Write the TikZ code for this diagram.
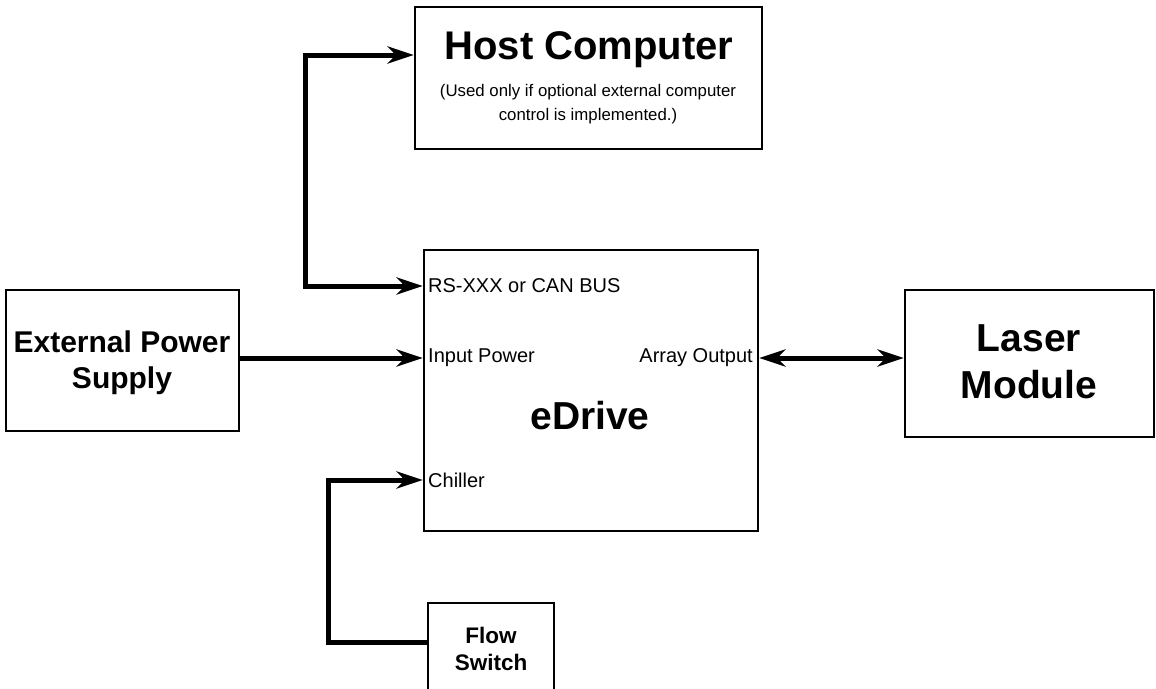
\documentclass[tikz,border=0pt]{standalone}
\usepackage{fontspec}
\setmainfont{Liberation Sans}
\usetikzlibrary{arrows.meta,calc}
\begin{document}
\begin{tikzpicture}[x=1pt,y=-1pt,
  box/.style={draw,line width=2.6pt,rectangle,inner sep=0pt},
  tip/.style={},
  conn/.style={line width=5pt,-{Stealth[length=26pt,width=17pt,inset=8pt]}},
  biconn/.style={line width=5pt,{Stealth[length=26pt,width=17pt,inset=8pt]}-{Stealth[length=26pt,width=17pt,inset=8pt]}},
  lbl/.style={inner sep=0pt,font=\fontsize{20}{22}\selectfont}]
\useasboundingbox (0,0) rectangle (1156,688);
% boxes
\node[box,minimum width=347pt,minimum height=142pt] (hc) at (588.5,78) {};
\node[box,minimum width=334pt,minimum height=281pt] (ed) at (591,390.5) {};
\node[box,minimum width=233pt,minimum height=141pt] (ps) at (122.5,360.5) {};
\node[box,minimum width=249pt,minimum height=147pt] (lm) at (1029.5,363.5) {};
\node[box,minimum width=126pt,minimum height=90pt] (fs) at (491,648) {};
% texts
\node[inner sep=0pt,font=\bfseries\fontsize{40}{40}\selectfont] (hct) at (589,50) {Host Computer};
\node[inner sep=0pt,align=center,font=\fontsize{16.8}{24}\selectfont] (hcs) at (588,104) {(Used only if optional external computer\\control is implemented.)};
\node[inner sep=0pt,font=\bfseries\fontsize{39}{39}\selectfont] (edt) at (590,416) {eDrive};
\node[inner sep=0pt,align=center,font=\bfseries\fontsize{30}{36}\selectfont] (pst) at (122,363) {External Power\\Supply};
\node[inner sep=0pt,align=center,font=\bfseries\fontsize{39}{47}\selectfont] (lmt) at (1029,362) {Laser\\Module};
\node[inner sep=0pt,align=center,font=\bfseries\fontsize{22.5}{27}\selectfont] (fst) at (491,649) {Flow\\Switch};
\node[lbl,anchor=west] (rs) at (428,286) {RS-XXX or CAN BUS};
\node[lbl,anchor=west] (ip) at (428,358) {Input Power};
\node[lbl,anchor=east] (ao) at (753,358) {Array Output};
\node[lbl,anchor=west] (ch) at (428,480) {Chiller};
% connectors
\coordinate (hcin) at (415,55);
\draw[biconn] (ed.west |- rs.west) -| (305,170) |- (hc.west |- hcin);
\draw[conn] (ps.east |- ip.west) -- (ed.west |- ip.west);
\draw[biconn] (ed.east |- ao.east) -- (lm.west |- ao.east);
\draw[conn] (fs.west |- 0,642) -| (328,560) |- (ed.west |- ch.west);
\end{tikzpicture}
\end{document}
